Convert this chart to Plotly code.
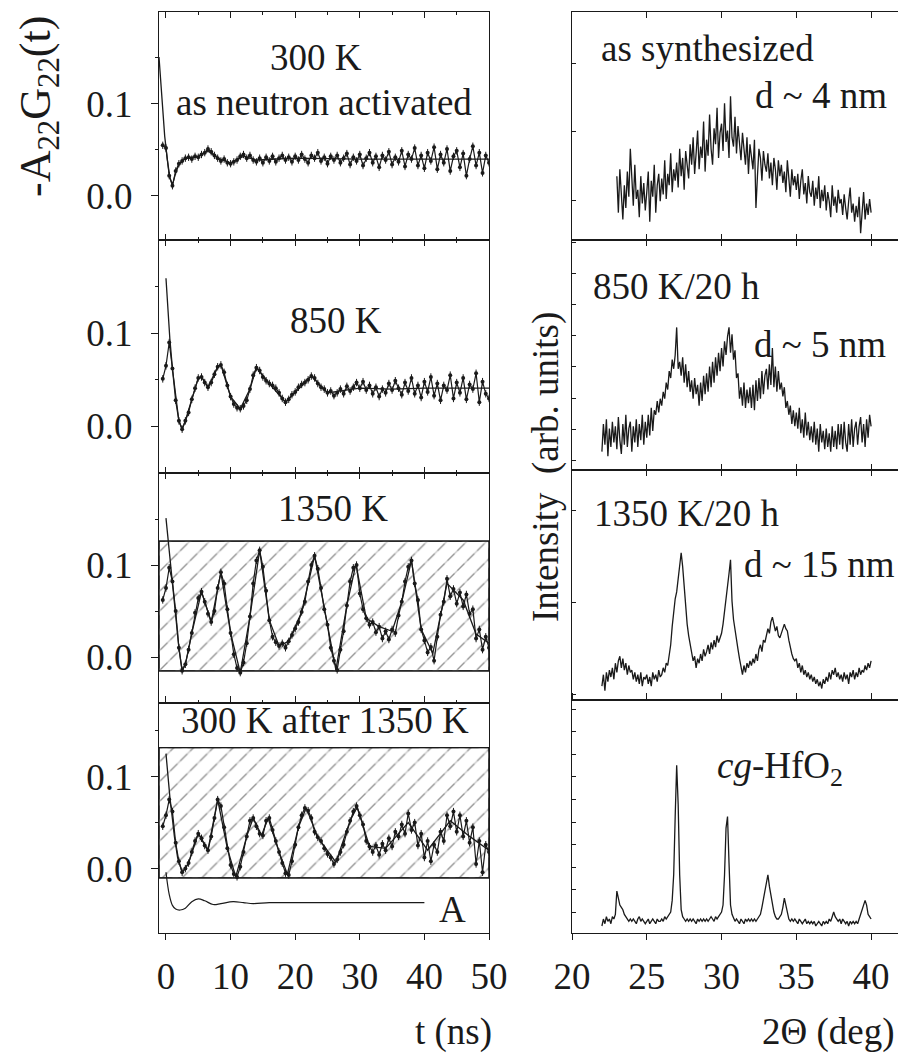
import plotly.graph_objects as go

W, H = 906, 1057
OFF = 8  # the page body adds an 8 px margin around the figure
FONT = "Liberation Serif"
INK = "#1a1a1a"

# ---------------- PAC spectra -A22G22(t), sampled every 0.5 ns ----------------
t_ns = [i * 0.5 for i in range(-1, 101)]

g_300 = [
    0.055, 0.052, 0.022, 0.011, 0.027, 0.035, 0.038, 0.041, 0.042, 0.040,
    0.043, 0.042, 0.045, 0.047, 0.051, 0.048, 0.044, 0.041, 0.038, 0.040,
    0.036, 0.035, 0.037, 0.039, 0.043, 0.045, 0.041, 0.044, 0.039, 0.037,
    0.041, 0.036, 0.042, 0.038, 0.043, 0.037, 0.041, 0.044, 0.039, 0.042,
    0.037, 0.043, 0.039, 0.045, 0.040, 0.036, 0.044, 0.041, 0.047, 0.038,
    0.042, 0.035, 0.043, 0.039, 0.044, 0.036, 0.041, 0.046, 0.034, 0.042,
    0.038, 0.045, 0.033, 0.041, 0.047, 0.036, 0.043, 0.031, 0.044, 0.039,
    0.048, 0.034, 0.042, 0.037, 0.049, 0.032, 0.045, 0.040, 0.052, 0.033,
    0.044, 0.030, 0.047, 0.038, 0.053, 0.029, 0.045, 0.036, 0.051, 0.027,
    0.043, 0.049, 0.031, 0.046, 0.022, 0.040, 0.054, 0.033, 0.047, 0.025,
    0.044, 0.036,
]

g_850 = [
    0.051, 0.065, 0.090, 0.062, 0.028, 0.006, -0.003, 0.006, 0.015, 0.029,
    0.041, 0.052, 0.053, 0.047, 0.042, 0.047, 0.056, 0.064, 0.066, 0.058,
    0.044, 0.032, 0.024, 0.020, 0.019, 0.022, 0.028, 0.040, 0.055, 0.063,
    0.060, 0.053, 0.049, 0.046, 0.044, 0.041, 0.036, 0.030, 0.026, 0.029,
    0.034, 0.037, 0.042, 0.045, 0.047, 0.050, 0.054, 0.052, 0.046, 0.042,
    0.040, 0.036, 0.038, 0.033, 0.036, 0.040, 0.035, 0.043, 0.038, 0.042,
    0.047, 0.041, 0.048, 0.039, 0.044, 0.035, 0.042, 0.032, 0.040, 0.036,
    0.046, 0.039, 0.049, 0.041, 0.034, 0.047, 0.038, 0.052, 0.035, 0.044,
    0.031, 0.048, 0.037, 0.053, 0.033, 0.046, 0.028, 0.044, 0.039, 0.055,
    0.030, 0.047, 0.036, 0.052, 0.029, 0.045, 0.040, 0.057, 0.026, 0.048,
    0.035, 0.030,
]

g_1350 = [
    0.062, 0.075, 0.097, 0.082, 0.050, 0.010, -0.015, -0.008, 0.008, 0.026,
    0.048, 0.064, 0.071, 0.060, 0.047, 0.038, 0.050, 0.075, 0.092, 0.080,
    0.052, 0.026, 0.003, -0.012, -0.017, -0.006, 0.015, 0.044, 0.080, 0.105,
    0.116, 0.098, 0.072, 0.040, 0.022, 0.016, 0.012, 0.015, 0.010, 0.017,
    0.024, 0.031, 0.038, 0.049, 0.060, 0.082, 0.100, 0.110, 0.096, 0.075,
    0.052, 0.035, 0.010, -0.004, -0.014, 0.008, 0.028, 0.056, 0.082, 0.097,
    0.100, 0.069, 0.052, 0.042, 0.035, 0.038, 0.027, 0.033, 0.020, 0.028,
    0.019, 0.030, 0.026, 0.045, 0.060, 0.082, 0.098, 0.105, 0.080, 0.062,
    0.030, 0.018, 0.005, 0.011, -0.004, 0.022, 0.046, 0.060, 0.085, 0.066,
    0.074, 0.058, 0.070, 0.055, 0.068, 0.047, 0.052, 0.020, 0.030, 0.008,
    0.022, 0.010,
]

g_after = [
    0.046, 0.058, 0.075, 0.062, 0.028, 0.008, -0.004, 0.000, 0.006, 0.018,
    0.030, 0.038, 0.033, 0.025, 0.020, 0.035, 0.055, 0.075, 0.068, 0.045,
    0.022, 0.004, -0.006, -0.009, 0.002, 0.018, 0.035, 0.052, 0.055, 0.046,
    0.038, 0.036, 0.052, 0.055, 0.042, 0.030, 0.018, 0.006, -0.005, -0.007,
    0.008, 0.026, 0.045, 0.058, 0.066, 0.063, 0.055, 0.040, 0.034, 0.030,
    0.022, 0.016, 0.012, 0.005, 0.010, 0.018, 0.026, 0.040, 0.052, 0.062,
    0.068, 0.058, 0.048, 0.030, 0.024, 0.018, 0.025, 0.015, 0.027, 0.020,
    0.033, 0.024, 0.040, 0.035, 0.048, 0.038, 0.060, 0.042, 0.050, 0.025,
    0.038, 0.012, 0.030, 0.008, 0.026, 0.018, 0.040, 0.030, 0.058, 0.046,
    0.062, 0.040, 0.058, 0.035, 0.052, 0.028, 0.045, 0.005, 0.030, -0.004,
    0.026, 0.018,
]

# fitted curves (solid lines)
fit_t_300 = [-1.08, -0.8, -0.5, -0.2, 0.2, 0.6, 1.0, 1.5, 2.0, 3.0, 4.0, 5.0, 6.5, 8.0, 10.0, 12.0, 14.0, 20.0, 30.0, 40.0, 50.0]
fit_300 = [0.151, 0.120, 0.090, 0.065, 0.040, 0.020, 0.012, 0.025, 0.034, 0.041, 0.042, 0.043, 0.049, 0.041, 0.036, 0.043, 0.039, 0.041, 0.040, 0.040, 0.040]

fit_t_850 = [0.0, 0.3, 0.6, 1.0, 1.5, 2.0, 2.5, 3.0, 4.0, 5.0, 5.5, 6.5, 8.0, 8.5, 10.0, 11.5, 13.0, 14.0, 16.0, 18.5, 22.5, 25.0, 30.0, 35.0, 40.0, 45.0, 50.0]
fit_850 = [0.159, 0.125, 0.094, 0.062, 0.028, 0.006, -0.003, 0.006, 0.029, 0.052, 0.053, 0.042, 0.064, 0.066, 0.032, 0.019, 0.040, 0.063, 0.046, 0.026, 0.054, 0.036, 0.041, 0.040, 0.041, 0.041, 0.041]

fit_t_1350 = [0.0, 0.3, 0.6, 0.9, 1.2, 1.6, 2.0, 2.5, 3.0, 4.0, 5.5, 7.0, 8.5, 10.0, 11.5, 13.0, 14.5, 16.0, 17.5, 19.0, 21.0, 23.0, 24.5, 26.3, 28.0, 29.4, 31.0, 33.0, 35.0, 36.5, 38.0, 39.5, 41.3, 43.5, 46.0, 48.0, 50.0]
fit_1350 = [0.151, 0.130, 0.105, 0.084, 0.062, 0.035, 0.010, -0.015, -0.008, 0.026, 0.071, 0.038, 0.092, 0.026, -0.017, 0.044, 0.116, 0.040, 0.012, 0.017, 0.049, 0.110, 0.052, -0.014, 0.056, 0.101, 0.042, 0.033, 0.028, 0.060, 0.105, 0.030, 0.004, 0.080, 0.062, 0.025, 0.015]

fit_t_after = [0.0, 0.3, 0.6, 0.9, 1.3, 1.8, 2.5, 3.5, 5.0, 6.5, 8.0, 9.5, 10.8, 12.5, 13.5, 14.8, 15.8, 17.5, 18.8, 20.5, 21.7, 23.5, 26.3, 28.5, 29.6, 31.5, 34.0, 37.5, 40.5, 44.0, 47.0, 50.0]
fit_after = [0.125, 0.100, 0.078, 0.060, 0.035, 0.012, -0.004, 0.006, 0.038, 0.020, 0.075, 0.022, -0.009, 0.035, 0.055, 0.036, 0.055, 0.018, -0.006, 0.045, 0.066, 0.034, 0.007, 0.052, 0.067, 0.024, 0.022, 0.050, 0.020, 0.052, 0.035, 0.020]

# curve "A"
t_A = [0.0, 0.5, 1.0, 1.5, 2.2, 3.0, 4.0, 5.0, 6.0, 7.3, 8.5, 10.4, 12.0, 13.5, 16.0, 20.0, 30.0, 40.0]
curve_A = [-0.004, -0.028, -0.040, -0.044, -0.045, -0.043, -0.036, -0.033, -0.035, -0.039, -0.038, -0.036, -0.037, -0.038, -0.037, -0.037, -0.037, -0.037]

# hatched bands
hatch_t = [-1.08, 50.0]
hatch_1350 = [-0.015, 0.126]
hatch_after = [-0.010, 0.1315]

# ---------------- XRD patterns (arb. units), 0.1 deg steps ----------------
tth_a = [round(23.0 + 0.1 * i, 1) for i in range(171)]
tth_b = [round(22.0 + 0.1 * i, 1) for i in range(181)]

xrd_as = [
    28, 12, 31, 17, 9, 24, 14, 30, 19, 40,
    26, 15, 33, 18, 22, 10, 28, 16, 25, 13,
    21, 30, 8, 26, 19, 33, 12, 24, 29, 17,
    27, 20, 35, 18, 29, 24, 38, 21, 31, 26,
    34, 23, 40, 28, 36, 22, 39, 31, 27, 42,
    33, 45, 29, 38, 48, 31, 41, 36, 52, 30,
    44, 37, 55, 40, 33, 49, 42, 58, 36, 47,
    51, 39, 60, 43, 48, 36, 63, 45, 41, 54,
    38, 50, 44, 35, 47, 40, 33, 45, 29, 42,
    37, 31, 44, 14, 28, 40, 36, 26, 39, 33,
    30, 38, 27, 34, 24, 36, 31, 22, 35, 28,
    33, 25, 30, 21, 35, 27, 19, 31, 24, 28,
    22, 29, 18, 26, 31, 20, 25, 16, 28, 21,
    19, 26, 15, 23, 18, 28, 14, 22, 17, 24,
    13, 21, 17, 10, 24, 15, 19, 12, 22, 16,
    18, 11, 20, 14, 9, 17, 23, 12, 16, 8,
    15, 10, 19, 3, 14, 21, 9, 16, 11, 18,
    12,
]

xrd_850 = [
    8, 20, 11, 22, 6, 18, 10, 21, 12, 19,
    9, 23, 13, 7, 20, 11, 24, 10, 18, 21,
    8, 19, 12, 22, 10, 20, 13, 24, 11, 21,
    14, 24, 15, 27, 17, 26, 24, 30, 25, 31,
    28, 34, 31, 38, 35, 43, 40, 48, 44, 50,
    62, 44, 47, 41, 49, 38, 46, 36, 43, 34,
    39, 31, 40, 33, 37, 28, 38, 30, 41, 33,
    42, 34, 45, 36, 47, 38, 49, 41, 51, 43,
    53, 45, 56, 50, 58, 62, 51, 59, 48, 52,
    40, 42, 31, 36, 28, 38, 27, 35, 29, 36,
    27, 37, 26, 39, 30, 40, 31, 43, 33, 41,
    44, 35, 46, 37, 53, 36, 45, 34, 43, 35,
    38, 32, 36, 27, 30, 24, 28, 20, 26, 19,
    25, 18, 27, 16, 22, 14, 25, 15, 21, 13,
    19, 12, 21, 11, 18, 8, 20, 12, 17, 9,
    18, 10, 16, 8, 19, 10, 17, 9, 20, 11,
    20, 9, 21, 12, 8, 20, 11, 22, 10, 18,
    21, 11, 19, 23, 12, 20, 10, 22, 14, 24,
    19,
]

xrd_1350 = [
    6, 11, 4, 12, 8, 13, 10, 14, 9, 16,
    12, 17, 19, 14, 18, 13, 16, 11, 15, 12,
    13, 9, 12, 8, 11, 7, 12, 6, 10, 9,
    11, 7, 10, 6, 12, 9, 11, 8, 13, 10,
    11, 14, 12, 16, 15, 19, 24, 32, 38, 44,
    47, 53, 60, 64, 58, 49, 39, 33, 28, 24,
    20, 17, 19, 14, 18, 16, 20, 17, 22, 19,
    21, 24, 20, 25, 22, 26, 23, 28, 25, 27,
    29, 33, 38, 44, 50, 55, 61, 43, 35, 30,
    26, 22, 18, 14, 11, 15, 12, 16, 14, 17,
    15, 18, 16, 20, 17, 22, 24, 21, 26, 25,
    28, 31, 29, 34, 36, 33, 30, 32, 28, 27,
    29, 31, 33, 31, 30, 26, 22, 20, 18, 17,
    18, 14, 16, 12, 15, 11, 13, 10, 12, 9,
    11, 8, 10, 7, 9, 6, 8, 5, 9, 7,
    10, 8, 12, 9, 13, 11, 14, 10, 12, 9,
    11, 8, 12, 9, 11, 7, 12, 10, 13, 9,
    12, 10, 14, 11, 13, 12, 15, 13, 16, 14,
    17,
]

xrd_cg = [
    3, 6, 4, 7, 5, 6, 4, 7, 6, 8,
    18, 14, 12, 11, 10, 8, 7, 6, 5, 6,
    5, 6, 5, 4, 6, 7, 5, 6, 5, 4,
    5, 6, 4, 5, 6, 5, 4, 6, 5, 5,
    6, 5, 7, 6, 7, 8, 9, 14, 25, 50,
    72, 55, 25, 10, 7, 6, 5, 6, 5, 6,
    5, 6, 5, 4, 6, 5, 6, 5, 6, 5,
    6, 5, 6, 7, 6, 5, 7, 6, 7, 8,
    9, 12, 25, 45, 50, 30, 12, 8, 6, 5,
    6, 5, 4, 6, 5, 4, 6, 5, 6, 5,
    6, 5, 6, 5, 6, 7, 8, 11, 15, 19,
    22, 25, 20, 16, 12, 9, 7, 6, 6, 7,
    8, 11, 15, 12, 8, 6, 5, 6, 5, 6,
    5, 4, 6, 5, 4, 5, 6, 4, 5, 4,
    5, 4, 5, 3, 4, 5, 4, 3, 5, 4,
    5, 4, 6, 5, 7, 9, 7, 6, 5, 6,
    4, 6, 5, 4, 5, 3, 5, 4, 5, 4,
    5, 4, 6, 8, 10, 12, 14, 12, 8, 7,
    6,
]

# ---------------- layout geometry (pixels of the 906x1057 page) ----------------
def px_x(p):
    return (p - OFF) / W


def px_y(p):
    return 1 - (p - OFF) / H


left_x = [px_x(159), px_x(489)]
right_x = [px_x(572), px_x(901)]
left_rows = [(12, 240), (240, 473), (473, 703), (703, 933)]
right_rows = [(12, 240), (240, 470), (470, 700), (700, 933)]
left_yrange = [[-0.048, 0.2], [-0.05, 0.2], [-0.05, 0.2], [-0.07, 0.18]]
right_ytick = [(17.5, 30), (4.3, 13.5), (2.6, 40), (9.0, 9.66)]


def ydom(top, bot):
    return [px_y(bot), px_y(top)]


def ax_id(n):
    return "" if n == 1 else str(n)


fig = go.Figure()

pac = [
    (g_300, fit_t_300, fit_300),
    (g_850, fit_t_850, fit_850),
    (g_1350, fit_t_1350, fit_1350),
    (g_after, fit_t_after, fit_after),
]
hatches = {3: hatch_1350, 4: hatch_after}

for k, (g, ft, fv) in enumerate(pac, start=1):
    xa, ya = "x" + ax_id(k), "y" + ax_id(k)
    if k in hatches:
        lo, hi = hatches[k]
        a, b = hatch_t
        bx = [a, b, b, a, a]
        by = [lo, lo, hi, hi, lo]
        fig.add_trace(go.Scatter(
            x=bx, y=by, xaxis=xa, yaxis=ya,
            mode="lines", fill="toself", fillcolor="white",
            line=dict(color=INK, width=1.2),
            fillpattern=dict(shape="/", fgcolor="#2a2a2a", bgcolor="white", size=14, solidity=0.1),
            hoverinfo="skip",
        ))
        # white cross-strokes break the hatch lines into short dashes
        fig.add_trace(go.Scatter(
            x=bx, y=by, xaxis=xa, yaxis=ya,
            mode="lines", fill="toself", fillcolor="rgba(255,255,255,0)",
            line=dict(color=INK, width=1.2),
            fillpattern=dict(shape="\\", fgcolor="white", fillmode="overlay", size=14, solidity=0.3),
            hoverinfo="skip",
        ))
    fig.add_trace(go.Scatter(
        x=t_ns, y=g, xaxis=xa, yaxis=ya, mode="lines+markers",
        line=dict(color=INK, width=1.2), marker=dict(color=INK, size=4),
        error_y=dict(type="constant", value=0.004, thickness=1, width=0, color=INK),
    ))
    fig.add_trace(go.Scatter(
        x=ft, y=fv, xaxis=xa, yaxis=ya, mode="lines",
        line=dict(color=INK, width=1.3),
    ))

fig.add_trace(go.Scatter(
    x=t_A, y=curve_A, xaxis="x4", yaxis="y4", mode="lines",
    line=dict(color=INK, width=1.2, shape="spline"),
))

xrd = [(tth_a, xrd_as), (tth_b, xrd_850), (tth_b, xrd_1350), (tth_b, xrd_cg)]
for k, (xx, yy) in enumerate(xrd, start=5):
    fig.add_trace(go.Scatter(
        x=xx, y=yy, xaxis="x" + ax_id(k), yaxis="y" + ax_id(k), mode="lines",
        line=dict(color=INK, width=1.3),
    ))

tickfont = dict(family=FONT, size=37, color=INK)
layout = dict(
    width=W, height=H, margin=dict(l=0, r=0, t=0, b=0, autoexpand=False),
    paper_bgcolor="white", plot_bgcolor="white", showlegend=False,
    font=dict(family=FONT, color=INK),
)

for i in range(4):
    k = i + 1
    bottom = k == 4
    xa = dict(
        domain=left_x, range=[-1.08, 50], anchor="y" + ax_id(k), automargin=False,
        showline=True, mirror="ticks", linecolor=INK, linewidth=1.2,
        showgrid=False, zeroline=False,
        tickvals=[0, 10, 20, 30, 40, 50], ticklen=6, tickwidth=1.1, tickcolor=INK,
        ticks="outside" if bottom else "inside",
        showticklabels=bottom, tickfont=tickfont, ticklabelstandoff=4,
    )
    if not bottom:
        xa["minor"] = dict(dtick=5, ticks="inside", ticklen=3, tickcolor=INK)
    layout["xaxis" + ax_id(k)] = xa
    layout["yaxis" + ax_id(k)] = dict(
        domain=ydom(*left_rows[i]), range=left_yrange[i], anchor="x" + ax_id(k),
        automargin=False,
        showline=True, mirror=True, linecolor=INK, linewidth=1.2,
        showgrid=False, zeroline=False,
        tickvals=[0, 0.1], ticktext=["0.0", "0.1"], ticks="outside", ticklen=7,
        tickwidth=1.1, tickcolor=INK,
        minor=dict(tickvals=[0.05, 0.15], ticks="outside", ticklen=3, tickcolor=INK),
        tickfont=tickfont, ticklabelstandoff=11,
    )

for i in range(4):
    k = i + 5
    bottom = k == 8
    t0, dt = right_ytick[i]
    layout["xaxis" + ax_id(k)] = dict(
        domain=right_x, range=[20, 42], anchor="y" + ax_id(k), automargin=False,
        showline=True, mirror="ticks", linecolor=INK, linewidth=1.2,
        showgrid=False, zeroline=False,
        tickvals=[20, 25, 30, 35, 40], ticklen=6, tickwidth=1.1, tickcolor=INK,
        ticks="outside" if bottom else "inside",
        showticklabels=bottom, tickfont=tickfont, ticklabelstandoff=4,
    )
    layout["yaxis" + ax_id(k)] = dict(
        domain=ydom(*right_rows[i]), range=[0, 100], anchor="x" + ax_id(k),
        automargin=False,
        showline=True, mirror=True, linecolor=INK, linewidth=1.2,
        showgrid=False, zeroline=False, showticklabels=False,
        ticks="inside", tick0=t0, dtick=dt, ticklen=4, tickwidth=1, tickcolor=INK,
    )

fig.update_layout(**layout)


def note(text, x, y, size=37, angle=0):
    fig.add_annotation(
        text=text, x=px_x(x), y=px_y(y), xref="paper", yref="paper",
        xanchor="center", yanchor="middle", showarrow=False, textangle=angle,
        font=dict(family=FONT, size=size, color=INK),
    )


note("300 K", 316, 57)
note("as neutron activated", 324, 102)
note("850 K", 336, 320)
note("1350 K", 333, 508)
note("300 K after 1350 K", 325, 720)
note("A", 452, 909)
note("as synthesized", 707, 48)
note("d ~ 4 nm", 821, 96)
note("850 K/20 h", 676, 286)
note("d ~ 5 nm", 820, 344)
note("1350 K/20 h", 687, 514)
note("d ~ 15 nm", 819, 564)
note("<i>cg</i>-HfO<sub>2</sub>", 780, 768)
note("-A<sub>22</sub>G<sub>22</sub>(t)", 38, 107, size=44, angle=-90)
note("Intensity  (arb. units)", 546, 467, angle=-90)
note("t (ns)", 453, 1032)
note("2Θ (deg)", 828, 1032)

fig.write_html("out.html")
